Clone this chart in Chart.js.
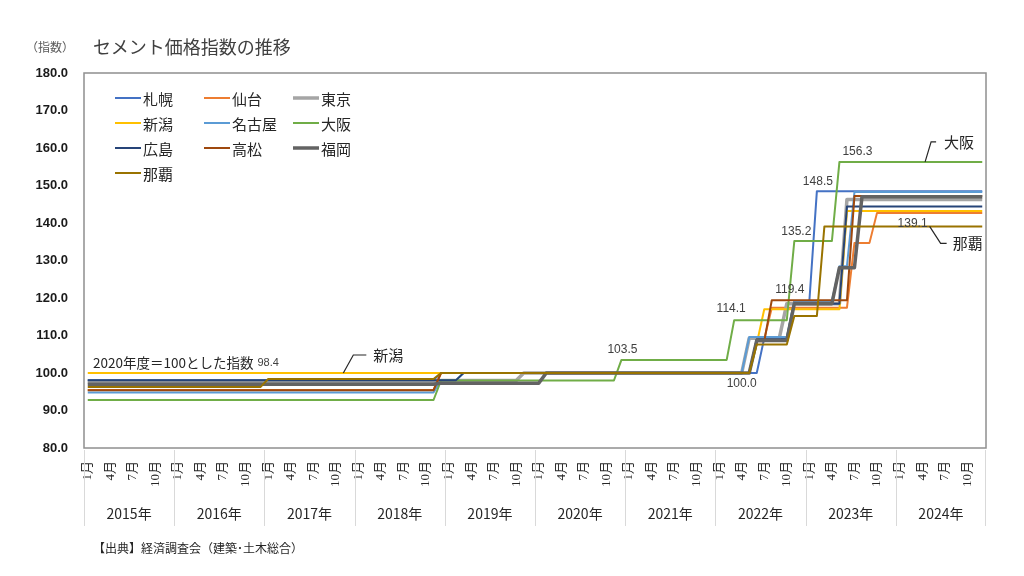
<!DOCTYPE html>
<html lang="ja">
<head>
<meta charset="utf-8">
<title>セメント価格指数の推移</title>
<script src="https://cdn.jsdelivr.net/npm/chart.js@4.4.1/dist/chart.umd.min.js"></script>
<style>
  html, body { margin: 0; padding: 0; background: #fff; }
  #wrap { position: relative; width: 1024px; height: 576px; }
  canvas { position: absolute; left: 0; top: 0; }
  .note { position: absolute; font-family: "Noto Sans CJK JP", sans-serif; white-space: nowrap; }
  #unit { left: 26px; top: 38px; font-size: 12px; color: #595959; }
  #title { left: 93px; top: 33px; font-size: 18px; color: #404040; }
  #source { left: 93px; top: 539px; font-size: 12px; color: #262626; }
</style>
</head>
<body>
<div id="wrap">
  <canvas id="chart" width="1024" height="576"></canvas>
  <div class="note" id="unit">（指数）</div>
  <div class="note" id="title">セメント価格指数の推移</div>
  <div class="note" id="source">【出典】経済調査会（建築･土木総合）</div>
</div>
<script>
// categories
const years = [2015, 2016, 2017, 2018, 2019, 2020, 2021, 2022, 2023, 2024];
const months = [1, 2, 3, 4, 5, 6, 7, 8, 9, 10, 11, 12];
const shownMonths = [1, 4, 7, 10];
const yTicks = [80, 90, 100, 110, 120, 130, 140, 150, 160, 170, 180];

// monthly index, one row per year (2015 .. 2024)
const sapporo = [
  98.1, 98.1, 98.1, 98.1, 98.1, 98.1, 98.1, 98.1, 98.1, 98.1, 98.1, 98.1,
  98.1, 98.1, 98.1, 98.1, 98.1, 98.1, 98.1, 98.1, 98.1, 98.1, 98.1, 98.1,
  98.1, 98.1, 98.1, 98.1, 98.1, 98.1, 98.1, 98.1, 98.1, 98.1, 98.1, 98.1,
  98.1, 98.1, 98.1, 98.1, 98.1, 98.1, 98.1, 98.1, 98.1, 98.1, 98.1, 100.0,
  100.0, 100.0, 100.0, 100.0, 100.0, 100.0, 100.0, 100.0, 100.0, 100.0, 100.0, 100.0,
  100.0, 100.0, 100.0, 100.0, 100.0, 100.0, 100.0, 100.0, 100.0, 100.0, 100.0, 100.0,
  100.0, 100.0, 100.0, 100.0, 100.0, 100.0, 100.0, 100.0, 100.0, 100.0, 100.0, 100.0,
  100.0, 100.0, 100.0, 100.0, 100.0, 100.0, 109.3, 109.3, 109.3, 109.3, 119.2, 119.2,
  119.2, 148.5, 148.5, 148.5, 148.5, 148.5, 148.5, 148.5, 148.5, 148.5, 148.5, 148.5,
  148.5, 148.5, 148.5, 148.5, 148.5, 148.5, 148.5, 148.5, 148.5, 148.5, 148.5, 148.5
];
const sendai = [
  95.5, 95.5, 95.5, 95.5, 95.5, 95.5, 95.5, 95.5, 95.5, 95.5, 95.5, 95.5,
  95.5, 95.5, 95.5, 95.5, 95.5, 95.5, 95.5, 95.5, 95.5, 95.5, 95.5, 95.5,
  95.5, 95.5, 95.5, 95.5, 95.5, 95.5, 95.5, 95.5, 95.5, 95.5, 95.5, 95.5,
  95.5, 95.5, 95.5, 95.5, 95.5, 95.5, 95.5, 95.5, 95.5, 95.5, 95.5, 100.0,
  100.0, 100.0, 100.0, 100.0, 100.0, 100.0, 100.0, 100.0, 100.0, 100.0, 100.0, 100.0,
  100.0, 100.0, 100.0, 100.0, 100.0, 100.0, 100.0, 100.0, 100.0, 100.0, 100.0, 100.0,
  100.0, 100.0, 100.0, 100.0, 100.0, 100.0, 100.0, 100.0, 100.0, 100.0, 100.0, 100.0,
  100.0, 100.0, 100.0, 100.0, 100.0, 109.0, 109.0, 117.4, 117.4, 117.4, 117.4, 117.4,
  117.4, 117.4, 117.4, 117.4, 117.4, 117.4, 134.7, 134.7, 134.7, 142.7, 142.7, 142.7,
  142.7, 142.7, 142.7, 142.7, 142.7, 142.7, 142.7, 142.7, 142.7, 142.7, 142.7, 142.7
];
const tokyo = [
  97.6, 97.6, 97.6, 97.6, 97.6, 97.6, 97.6, 97.6, 97.6, 97.6, 97.6, 97.6,
  97.6, 97.6, 97.6, 97.6, 97.6, 97.6, 97.6, 97.6, 97.6, 97.6, 97.6, 97.6,
  97.6, 97.6, 97.6, 97.6, 97.6, 97.6, 97.6, 97.6, 97.6, 97.6, 97.6, 97.6,
  97.6, 97.6, 97.6, 97.6, 97.6, 97.6, 97.6, 97.6, 97.6, 97.6, 97.6, 98.0,
  98.0, 98.0, 98.0, 98.0, 98.0, 98.0, 98.0, 98.0, 98.0, 98.0, 100.0, 100.0,
  100.0, 100.0, 100.0, 100.0, 100.0, 100.0, 100.0, 100.0, 100.0, 100.0, 100.0, 100.0,
  100.0, 100.0, 100.0, 100.0, 100.0, 100.0, 100.0, 100.0, 100.0, 100.0, 100.0, 100.0,
  100.0, 100.0, 100.0, 100.0, 109.3, 109.3, 109.3, 109.3, 109.3, 118.5, 118.5, 118.5,
  118.5, 118.5, 118.5, 118.5, 118.5, 146.3, 146.3, 146.3, 146.3, 146.3, 146.3, 146.3,
  146.3, 146.3, 146.3, 146.3, 146.3, 146.3, 146.3, 146.3, 146.3, 146.3, 146.3, 146.3
];
const niigata = [
  100.0, 100.0, 100.0, 100.0, 100.0, 100.0, 100.0, 100.0, 100.0, 100.0, 100.0, 100.0,
  100.0, 100.0, 100.0, 100.0, 100.0, 100.0, 100.0, 100.0, 100.0, 100.0, 100.0, 100.0,
  100.0, 100.0, 100.0, 100.0, 100.0, 100.0, 100.0, 100.0, 100.0, 100.0, 100.0, 100.0,
  100.0, 100.0, 100.0, 100.0, 100.0, 100.0, 100.0, 100.0, 100.0, 100.0, 100.0, 100.0,
  100.0, 100.0, 100.0, 100.0, 100.0, 100.0, 100.0, 100.0, 100.0, 100.0, 100.0, 100.0,
  100.0, 100.0, 100.0, 100.0, 100.0, 100.0, 100.0, 100.0, 100.0, 100.0, 100.0, 100.0,
  100.0, 100.0, 100.0, 100.0, 100.0, 100.0, 100.0, 100.0, 100.0, 100.0, 100.0, 100.0,
  100.0, 100.0, 100.0, 100.0, 100.0, 107.8, 117.0, 117.0, 117.0, 117.0, 117.0, 117.0,
  117.0, 117.0, 117.0, 117.0, 117.0, 143.2, 143.2, 143.2, 143.2, 143.2, 143.2, 143.2,
  143.2, 143.2, 143.2, 143.2, 143.2, 143.2, 143.2, 143.2, 143.2, 143.2, 143.2, 143.2
];
const nagoya = [
  94.8, 94.8, 94.8, 94.8, 94.8, 94.8, 94.8, 94.8, 94.8, 94.8, 94.8, 94.8,
  94.8, 94.8, 94.8, 94.8, 94.8, 94.8, 94.8, 94.8, 94.8, 94.8, 94.8, 94.8,
  94.8, 94.8, 94.8, 94.8, 94.8, 94.8, 94.8, 94.8, 94.8, 94.8, 94.8, 94.8,
  94.8, 94.8, 94.8, 94.8, 94.8, 94.8, 94.8, 94.8, 94.8, 94.8, 94.8, 98.1,
  98.1, 98.1, 100.0, 100.0, 100.0, 100.0, 100.0, 100.0, 100.0, 100.0, 100.0, 100.0,
  100.0, 100.0, 100.0, 100.0, 100.0, 100.0, 100.0, 100.0, 100.0, 100.0, 100.0, 100.0,
  100.0, 100.0, 100.0, 100.0, 100.0, 100.0, 100.0, 100.0, 100.0, 100.0, 100.0, 100.0,
  100.0, 100.0, 100.0, 100.0, 109.6, 109.6, 109.6, 109.6, 109.6, 109.6, 119.2, 119.2,
  119.2, 119.2, 119.2, 119.2, 128.5, 128.5, 148.3, 148.3, 148.3, 148.3, 148.3, 148.3,
  148.3, 148.3, 148.3, 148.3, 148.3, 148.3, 148.3, 148.3, 148.3, 148.3, 148.3, 148.3
];
const osaka = [
  92.8, 92.8, 92.8, 92.8, 92.8, 92.8, 92.8, 92.8, 92.8, 92.8, 92.8, 92.8,
  92.8, 92.8, 92.8, 92.8, 92.8, 92.8, 92.8, 92.8, 92.8, 92.8, 92.8, 92.8,
  92.8, 92.8, 92.8, 92.8, 92.8, 92.8, 92.8, 92.8, 92.8, 92.8, 92.8, 92.8,
  92.8, 92.8, 92.8, 92.8, 92.8, 92.8, 92.8, 92.8, 92.8, 92.8, 92.8, 98.0,
  98.0, 98.0, 98.0, 98.0, 98.0, 98.0, 98.0, 98.0, 98.0, 98.0, 98.0, 98.0,
  98.0, 98.0, 98.0, 98.0, 98.0, 98.0, 98.0, 98.0, 98.0, 98.0, 98.0, 103.5,
  103.5, 103.5, 103.5, 103.5, 103.5, 103.5, 103.5, 103.5, 103.5, 103.5, 103.5, 103.5,
  103.5, 103.5, 114.1, 114.1, 114.1, 114.1, 114.1, 114.1, 114.1, 114.1, 135.2, 135.2,
  135.2, 135.2, 135.2, 135.2, 156.3, 156.3, 156.3, 156.3, 156.3, 156.3, 156.3, 156.3,
  156.3, 156.3, 156.3, 156.3, 156.3, 156.3, 156.3, 156.3, 156.3, 156.3, 156.3, 156.3
];
const hiroshima = [
  98.1, 98.1, 98.1, 98.1, 98.1, 98.1, 98.1, 98.1, 98.1, 98.1, 98.1, 98.1,
  98.1, 98.1, 98.1, 98.1, 98.1, 98.1, 98.1, 98.1, 98.1, 98.1, 98.1, 98.1,
  98.1, 98.1, 98.1, 98.1, 98.1, 98.1, 98.1, 98.1, 98.1, 98.1, 98.1, 98.1,
  98.1, 98.1, 98.1, 98.1, 98.1, 98.1, 98.1, 98.1, 98.1, 98.1, 98.1, 98.1,
  98.1, 98.1, 100.0, 100.0, 100.0, 100.0, 100.0, 100.0, 100.0, 100.0, 100.0, 100.0,
  100.0, 100.0, 100.0, 100.0, 100.0, 100.0, 100.0, 100.0, 100.0, 100.0, 100.0, 100.0,
  100.0, 100.0, 100.0, 100.0, 100.0, 100.0, 100.0, 100.0, 100.0, 100.0, 100.0, 100.0,
  100.0, 100.0, 100.0, 100.0, 100.0, 109.0, 109.0, 109.0, 109.0, 109.0, 118.5, 118.5,
  118.5, 118.5, 118.5, 118.5, 118.5, 144.4, 144.4, 144.4, 144.4, 144.4, 144.4, 144.4,
  144.4, 144.4, 144.4, 144.4, 144.4, 144.4, 144.4, 144.4, 144.4, 144.4, 144.4, 144.4
];
const takamatsu = [
  95.4, 95.4, 95.4, 95.4, 95.4, 95.4, 95.4, 95.4, 95.4, 95.4, 95.4, 95.4,
  95.4, 95.4, 95.4, 95.4, 95.4, 95.4, 95.4, 95.4, 95.4, 95.4, 95.4, 95.4,
  95.4, 95.4, 95.4, 95.4, 95.4, 95.4, 95.4, 95.4, 95.4, 95.4, 95.4, 95.4,
  95.4, 95.4, 95.4, 95.4, 95.4, 95.4, 95.4, 95.4, 95.4, 95.4, 95.4, 100.0,
  100.0, 100.0, 100.0, 100.0, 100.0, 100.0, 100.0, 100.0, 100.0, 100.0, 100.0, 100.0,
  100.0, 100.0, 100.0, 100.0, 100.0, 100.0, 100.0, 100.0, 100.0, 100.0, 100.0, 100.0,
  100.0, 100.0, 100.0, 100.0, 100.0, 100.0, 100.0, 100.0, 100.0, 100.0, 100.0, 100.0,
  100.0, 100.0, 100.0, 100.0, 100.0, 108.5, 108.5, 119.4, 119.4, 119.4, 119.4, 119.4,
  119.4, 119.4, 119.4, 119.4, 119.4, 119.4, 147.2, 147.2, 147.2, 147.2, 147.2, 147.2,
  147.2, 147.2, 147.2, 147.2, 147.2, 147.2, 147.2, 147.2, 147.2, 147.2, 147.2, 147.2
];
const fukuoka = [
  97.0, 97.0, 97.0, 97.0, 97.0, 97.0, 97.0, 97.0, 97.0, 97.0, 97.0, 97.0,
  97.0, 97.0, 97.0, 97.0, 97.0, 97.0, 97.0, 97.0, 97.0, 97.0, 97.0, 97.0,
  97.0, 97.0, 97.0, 97.0, 97.0, 97.0, 97.0, 97.0, 97.0, 97.0, 97.0, 97.0,
  97.0, 97.0, 97.0, 97.0, 97.0, 97.0, 97.0, 97.0, 97.0, 97.0, 97.0, 97.3,
  97.3, 97.3, 97.3, 97.3, 97.3, 97.3, 97.3, 97.3, 97.3, 97.3, 97.3, 97.3,
  97.3, 100.0, 100.0, 100.0, 100.0, 100.0, 100.0, 100.0, 100.0, 100.0, 100.0, 100.0,
  100.0, 100.0, 100.0, 100.0, 100.0, 100.0, 100.0, 100.0, 100.0, 100.0, 100.0, 100.0,
  100.0, 100.0, 100.0, 100.0, 100.0, 108.7, 108.7, 108.7, 108.7, 108.7, 118.5, 118.5,
  118.5, 118.5, 118.5, 118.5, 128.1, 128.1, 128.1, 147.0, 147.0, 147.0, 147.0, 147.0,
  147.0, 147.0, 147.0, 147.0, 147.0, 147.0, 147.0, 147.0, 147.0, 147.0, 147.0, 147.0
];
const naha = [
  96.3, 96.3, 96.3, 96.3, 96.3, 96.3, 96.3, 96.3, 96.3, 96.3, 96.3, 96.3,
  96.3, 96.3, 96.3, 96.3, 96.3, 96.3, 96.3, 96.3, 96.3, 96.3, 96.3, 96.3,
  98.4, 98.4, 98.4, 98.4, 98.4, 98.4, 98.4, 98.4, 98.4, 98.4, 98.4, 98.4,
  98.4, 98.4, 98.4, 98.4, 98.4, 98.4, 98.4, 98.4, 98.4, 98.4, 98.4, 100.0,
  100.0, 100.0, 100.0, 100.0, 100.0, 100.0, 100.0, 100.0, 100.0, 100.0, 100.0, 100.0,
  100.0, 100.0, 100.0, 100.0, 100.0, 100.0, 100.0, 100.0, 100.0, 100.0, 100.0, 100.0,
  100.0, 100.0, 100.0, 100.0, 100.0, 100.0, 100.0, 100.0, 100.0, 100.0, 100.0, 100.0,
  100.0, 100.0, 100.0, 100.0, 100.0, 107.6, 107.6, 107.6, 107.6, 107.6, 115.2, 115.2,
  115.2, 115.2, 139.1, 139.1, 139.1, 139.1, 139.1, 139.1, 139.1, 139.1, 139.1, 139.1,
  139.1, 139.1, 139.1, 139.1, 139.1, 139.1, 139.1, 139.1, 139.1, 139.1, 139.1, 139.1
];

const cityNames = ['札幌', '仙台', '東京', '新潟', '名古屋', '大阪', '広島', '高松', '福岡', '那覇'];
const cityValues = [sapporo, sendai, tokyo, niigata, nagoya, osaka, hiroshima, takamatsu, fukuoka, naha];
const cityColors = ['#4472C4', '#ED7D31', '#A5A5A5', '#FFC000', '#5B9BD5', '#70AD47', '#264478', '#9E480E', '#636363', '#997300'];
const cityWidths = [2, 2, 3.5, 2, 2, 2, 2, 2, 3.5, 2];

// value labels placed on a point of a series (offsets in px)
const valueLabels = [
  { city: 9, index: 24, dx: 0, dy: -16, size: 11 },
  { city: 5, index: 71, dx: 1, dy: -10, size: 12 },
  { city: 5, index: 86, dx: -3, dy: -11, size: 12 },
  { city: 0, index: 87, dx: 0, dy: 11, size: 12 },
  { city: 7, index: 93, dx: 3, dy: -11, size: 12 },
  { city: 5, index: 94, dx: 2, dy: -9, size: 12 },
  { city: 0, index: 97, dx: 1, dy: -9, size: 12 },
  { city: 5, index: 102, dx: 3, dy: -10, size: 12 },
  { city: 9, index: 110, dx: -2, dy: -3, size: 12 }
];
// leader-line callouts with the city name
const callouts = [
  { city: 3, index: 34, path: [[0, 0], [10, -18], [23, -18]], text: [30, -18] },
  { city: 5, index: 111, path: [[3, 0], [9, -20], [14, -20]], text: [22, -20] },
  { city: 9, index: 112, path: [[0, 0], [11, 17], [17, 17]], text: [23, 17] }
];

const JP = '"Noto Sans CJK JP", sans-serif';

const labels = [];
years.forEach(y => months.forEach(m => labels.push(y + '年' + m + '月')));

const datasets = cityNames.map((name, i) => ({
  label: name,
  data: cityValues[i],
  borderColor: cityColors[i],
  backgroundColor: cityColors[i],
  borderWidth: cityWidths[i],
  order: cityNames.length - i   // later series on top, like Excel
}));

const decorPlugin = {
  id: 'decor',
  afterDraw(chart) {
    const { ctx, chartArea: a, scales: { x, y } } = chart;
    ctx.save();

    // plot frame
    ctx.strokeStyle = '#8f8f8f';
    ctx.lineWidth = 1.5;
    ctx.strokeRect(a.left, a.top, a.right - a.left, a.bottom - a.top);

    // year groups under the month ticks
    const half = (x.getPixelForValue(1) - x.getPixelForValue(0)) / 2;
    ctx.strokeStyle = '#d9d9d9';
    ctx.lineWidth = 1;
    ctx.fillStyle = '#262626';
    ctx.font = '14px ' + JP;
    ctx.textAlign = 'center';
    ctx.textBaseline = 'middle';
    years.forEach((yr, k) => {
      const x0 = x.getPixelForValue(k * 12) - half;
      const x1 = x.getPixelForValue(k * 12 + 11) + half;
      ctx.beginPath();
      ctx.moveTo(Math.round(x0) + 0.5, a.bottom + 2);
      ctx.lineTo(Math.round(x0) + 0.5, a.bottom + 78);
      if (k === years.length - 1) {
        ctx.moveTo(Math.round(x1) - 0.5, a.bottom + 2);
        ctx.lineTo(Math.round(x1) - 0.5, a.bottom + 78);
      }
      ctx.stroke();
      ctx.fillText(yr + '年', (x0 + x1) / 2, a.bottom + 66);
    });

    // legend, 3 columns inside the plot
    ctx.font = '15px ' + JP;
    ctx.textAlign = 'left';
    cityNames.forEach((name, i) => {
      const col = i % 3, row = Math.floor(i / 3);
      const lx = a.left + 31 + col * 89;
      const ly = a.top + 25 + row * 25;
      ctx.strokeStyle = cityColors[i];
      ctx.lineWidth = cityWidths[i];
      ctx.beginPath();
      ctx.moveTo(lx, ly);
      ctx.lineTo(lx + 26, ly);
      ctx.stroke();
      ctx.fillStyle = '#262626';
      ctx.fillText(name, lx + 28, ly + 1);
    });

    // note about the base year
    ctx.font = '13.5px ' + JP;
    ctx.fillStyle = '#262626';
    ctx.fillText('2020年度＝100とした指数', a.left + 9, y.getPixelForValue(102.7));

    // value labels
    ctx.fillStyle = '#404040';
    ctx.textAlign = 'center';
    valueLabels.forEach(l => {
      const v = cityValues[l.city][l.index];
      ctx.font = l.size + 'px "Liberation Sans", Arial, sans-serif';
      ctx.fillText(v.toFixed(1), x.getPixelForValue(l.index) + l.dx, y.getPixelForValue(v) + l.dy);
    });

    // callouts
    ctx.strokeStyle = '#262626';
    ctx.lineWidth = 1.2;
    ctx.fillStyle = '#262626';
    ctx.font = '15px ' + JP;
    ctx.textAlign = 'left';
    callouts.forEach(c => {
      const px = x.getPixelForValue(c.index);
      const py = y.getPixelForValue(cityValues[c.city][c.index]);
      ctx.beginPath();
      c.path.forEach(([dx, dy], j) => j ? ctx.lineTo(px + dx, py + dy) : ctx.moveTo(px + dx, py + dy));
      ctx.stroke();
      ctx.fillText(cityNames[c.city], px + c.text[0], py + c.text[1]);
    });

    ctx.restore();
  }
};

new Chart(document.getElementById('chart'), {
  type: 'line',
  data: { labels, datasets },
  options: {
    responsive: false,
    animation: false,
    layout: { padding: { left: 0, right: 38, top: 73, bottom: 0 } },
    elements: {
      point: { radius: 0, hoverRadius: 0 },
      line: { tension: 0, borderJoinStyle: 'round', borderCapStyle: 'butt' }
    },
    plugins: {
      legend: { display: false },
      tooltip: { enabled: false }
    },
    scales: {
      x: {
        offset: true,
        grid: { display: false, drawTicks: false },
        border: { display: false },
        ticks: {
          autoSkip: false,
          minRotation: 90,
          maxRotation: 90,
          padding: 13,
          color: '#262626',
          font: { family: '"Liberation Serif", "Noto Sans CJK JP", serif', size: 13 },
          callback: (v, i) => {
            const m = months[i % 12];
            return shownMonths.includes(m) ? m + '月' : '';
          }
        },
        afterFit: s => { s.height = 128; }
      },
      y: {
        min: yTicks[0],
        max: yTicks[yTicks.length - 1],
        grid: { display: false, drawTicks: false },
        border: { display: false },
        afterBuildTicks: s => { s.ticks = yTicks.map(v => ({ value: v })); },
        ticks: {
          padding: 16,
          color: '#1a1a1a',
          font: { family: '"Liberation Sans", Arial, sans-serif', size: 13, weight: 'bold' },
          callback: v => v.toFixed(1)
        },
        afterFit: s => { s.width = 84; }
      }
    }
  },
  plugins: [decorPlugin]
});
</script>
</body>
</html>
